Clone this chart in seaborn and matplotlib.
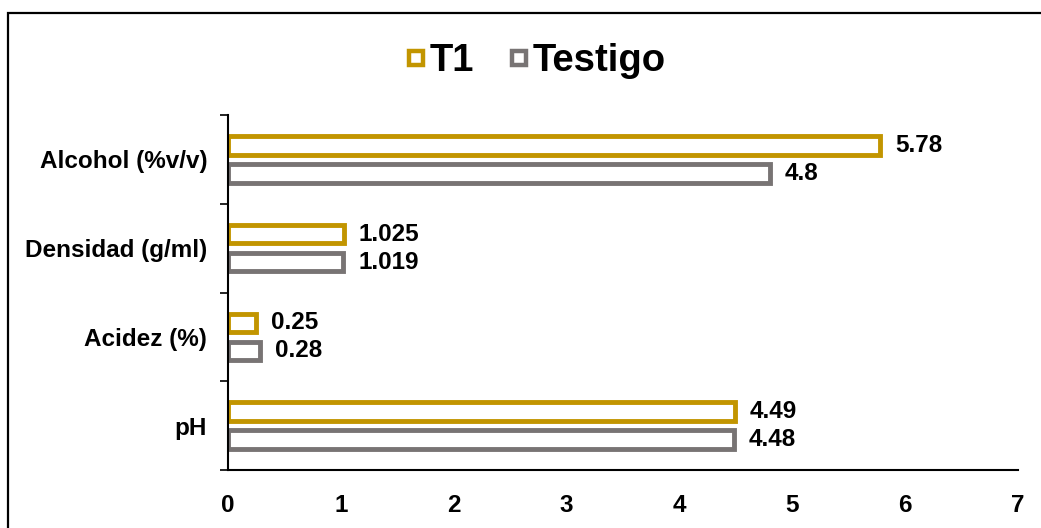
import matplotlib
matplotlib.use("Agg")
import matplotlib.pyplot as plt
from matplotlib.lines import Line2D
from matplotlib.patches import Rectangle
import pandas as pd
import seaborn as sns

categories = ["Alcohol (%v/v)", "Densidad (g/ml)", "Acidez (%)", "pH"]
t1_values = [5.78, 1.025, 0.25, 4.49]
testigo_values = [4.8, 1.019, 0.28, 4.48]
series_names = ["T1", "Testigo"]
x_ticks = [0, 1, 2, 3, 4, 5, 6, 7]

colors = {"T1": "#C29500", "Testigo": "#787474"}

df = pd.DataFrame({
    "categoria": categories * 2,
    "valor": t1_values + testigo_values,
    "serie": [series_names[0]] * len(categories) + [series_names[1]] * len(categories),
})

sns.set_style("white")
plt.rcParams["font.family"] = ["Liberation Sans", "DejaVu Sans"]
plt.rcParams["font.weight"] = "bold"
plt.rcParams["text.color"] = "black"
plt.rcParams["xtick.color"] = "black"
plt.rcParams["ytick.color"] = "black"

fig = plt.figure(figsize=(10.41, 5.28), dpi=100)
ax = fig.add_axes([0.219, 0.110, 0.759, 0.672])

sns.barplot(
    data=df, y="categoria", x="valor", hue="serie",
    order=categories, hue_order=series_names, palette=colors,
    orient="h", width=0.632, gap=0.34, fill=False, linewidth=3.5,
    errorbar=None, legend=False, ax=ax,
)

for container in ax.containers:
    vals = [bar.get_width() for bar in container]
    ax.bar_label(container, labels=[f"{v:g}" for v in vals], padding=11,
                 fontsize=17.5, fontweight="bold", color="black")

ax.set_xlim(0, 7)
ax.set_xticks(x_ticks)
ax.set_xticklabels([str(t) for t in x_ticks], fontsize=17.5, fontweight="bold")
ax.tick_params(axis="x", length=0, pad=17, labelcolor="black")

ax.set_ylim(3.5, -0.5)
ax.set_yticks(range(len(categories)))
ax.set_yticklabels(categories, fontsize=17.5, fontweight="bold")
ax.set_yticks([i - 0.5 for i in range(len(categories) + 1)], minor=True)
ax.tick_params(axis="y", which="major", length=0, pad=15, labelcolor="black")
ax.tick_params(axis="y", which="minor", length=6, width=1.2, color="black", left=True)

ax.set_xlabel("")
ax.set_ylabel("")
for side in ["top", "right"]:
    ax.spines[side].set_visible(False)
for side in ["left", "bottom"]:
    ax.spines[side].set_color("black")
    ax.spines[side].set_linewidth(1.5)

handles = [
    Line2D([], [], linestyle="none", marker="s", markersize=9.5,
           markerfacecolor="white", markeredgecolor=colors[name], markeredgewidth=3.2)
    for name in series_names
]
fig.legend(handles, series_names, loc="center", bbox_to_anchor=(0.515, 0.884),
           ncol=2, frameon=False, handlelength=0.5, handletextpad=0.12,
           columnspacing=0.9, prop={"size": 27.5, "weight": "bold"},
           labelcolor="black")

fig.patches.append(Rectangle((8 / 1041, -0.05), 1.1, 1.05 - 13 / 528,
                             transform=fig.transFigure, fill=False,
                             edgecolor="black", linewidth=1.6))

fig.savefig("out.png", dpi=100, facecolor="white")
